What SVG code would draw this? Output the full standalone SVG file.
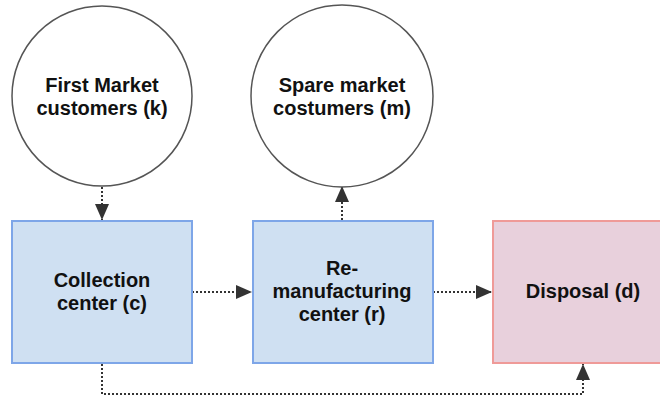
<svg xmlns="http://www.w3.org/2000/svg" width="660" height="400" viewBox="0 0 660 400">
<style>
.lbl{font-family:"Liberation Sans",Arial,sans-serif;font-weight:bold;font-size:20px;fill:#111;text-anchor:middle}
.circ{fill:#fff;stroke:#555;stroke-width:1.5}
.blue{fill:#cfe0f2;stroke:#7ea6e8;stroke-width:2}
.pink{fill:#e8d0dc;stroke:#ef9a98;stroke-width:2}
.edge{fill:none;stroke:#333;stroke-width:2;stroke-dasharray:2 2}
</style>
<defs>
<marker id="ah" viewBox="0 0 10 10" refX="10" refY="5" markerWidth="7" markerHeight="7" markerUnits="userSpaceOnUse" orient="auto">
<path d="M0,0 L10,5 L0,10 z" fill="#333"/>
</marker>
<marker id="a" viewBox="0 0 16 16" refX="16" refY="8" markerWidth="16" markerHeight="16" markerUnits="userSpaceOnUse" orient="auto">
<path d="M0,1 L16,8 L0,15 z" fill="#333"/>
</marker>
</defs>
<rect width="660" height="400" fill="#fff"/>
<g id="connectors">
<path class="edge" d="M102,187 V220" marker-end="url(#a)"/>
<path class="edge" d="M342,220 V186" marker-end="url(#a)"/>
<path class="edge" d="M192,292 H252" marker-end="url(#a)"/>
<path class="edge" d="M433,292 H492" marker-end="url(#a)"/>
<path class="edge" d="M102,364 V394 H583 V364" marker-end="url(#a)"/>
</g>
<g id="first-market">
<circle class="circ" cx="102" cy="96" r="90"/>
<text class="lbl" x="102" y="92">First Market</text>
<text class="lbl" x="102" y="115">customers (k)</text>
</g>
<g id="spare-market">
<circle class="circ" cx="342" cy="96" r="91"/>
<text class="lbl" x="342" y="92">Spare market</text>
<text class="lbl" x="342" y="115">costumers (m)</text>
</g>
<g id="collection">
<rect class="blue" x="12" y="221" width="180" height="142"/>
<text class="lbl" x="102" y="287">Collection</text>
<text class="lbl" x="102" y="310">center (c)</text>
</g>
<g id="remanufacturing">
<rect class="blue" x="253" y="221" width="180" height="142"/>
<text class="lbl" x="342" y="275">Re-</text>
<text class="lbl" x="342" y="298">manufacturing</text>
<text class="lbl" x="342" y="321">center (r)</text>
</g>
<g id="disposal">
<rect class="pink" x="493" y="221" width="180" height="142"/>
<text class="lbl" x="583" y="298">Disposal (d)</text>
</g>
</svg>
